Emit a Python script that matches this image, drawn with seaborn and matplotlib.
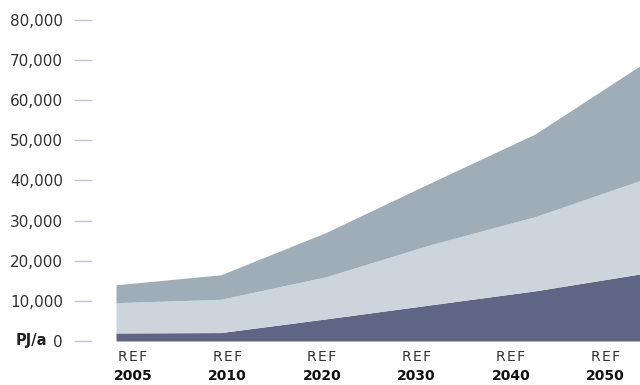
import numpy as np
import matplotlib
matplotlib.use("Agg")
import matplotlib.pyplot as plt
import matplotlib.transforms as mtransforms
import seaborn as sns

# data (PJ/a)
years = ["2005", "2010", "2020", "2030", "2040", "2050"]
scenario = ["REF"] * 6
bottom_series = [2000, 2100, 5500, 9000, 12500, 16700]
middle_series = [7550, 8300, 10500, 15000, 18500, 23300]
top_series = [4450, 6100, 11000, 15400, 20600, 28600]
yticks = [0, 10000, 20000, 30000, 40000, 50000, 60000, 70000, 80000]

colors = ["#5e6585", "#cdd5dc", "#9eadb8"]

sns.set_style("white")
plt.rcParams["font.family"] = ["DejaVu Sans"]

fig = plt.figure(figsize=(6.4, 3.85), dpi=100)
ax = fig.add_axes([116 / 640, 44 / 385, 524 / 640, 321 / 385])

x = np.arange(len(years))
ax.stackplot(x, bottom_series, middle_series, top_series, colors=colors, linewidth=0)
ax.set_xlim(0, len(years) - 1)
ax.set_ylim(0, 80000)

# y axis: labels with short ticks set off from the plot (sizes in px -> pt)
px = 72 / 100
sns.despine(ax=ax, left=True, bottom=True)
ax.spines["left"].set_position(("outward", 24 * px))
ax.set_yticks(yticks)
ax.set_yticklabels([f"{v:,}" for v in yticks])
ax.tick_params(axis="y", length=18 * px, width=1, color="#c3c6d9", pad=11 * px,
               labelsize=11, labelcolor="#333333", left=True)
for lbl in ax.get_yticklabels():
    lbl.set_fontstretch("normal")

# "PJ/a" unit next to the zero label
trans = mtransforms.blended_transform_factory(fig.transFigure, ax.transData)
ax.text(47 / 640, 0, "PJ/a", transform=trans, ha="right", va="center",
        fontsize=10.5, fontweight="bold", color="#222222")

# x labels: scenario over bold year
ax.set_xticks([])
step = 94.5 / 104.8
label_pos = [17 / 104.8 + i * step for i in range(len(years))]
xtrans = mtransforms.blended_transform_factory(ax.transData, fig.transFigure)
for pos, sc, yr in zip(label_pos, scenario, years):
    ax.text(pos, 1 - 357 / 385, "\u200a".join(sc), transform=xtrans, ha="center",
            va="center", fontsize=10, color="#333333")
    ax.text(pos, 1 - 376 / 385, yr, transform=xtrans, ha="center", va="center",
            fontsize=10, fontweight="bold", color="#111111")

fig.savefig("out.png", dpi=100)
